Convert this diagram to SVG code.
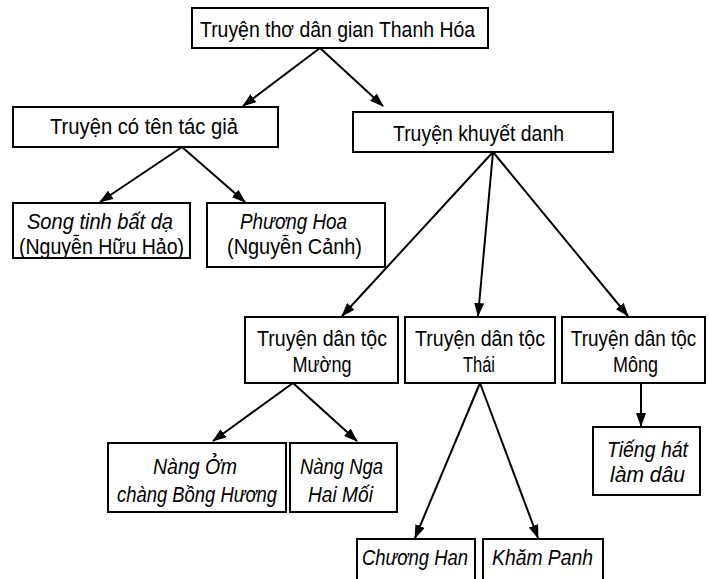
<svg xmlns="http://www.w3.org/2000/svg" width="709" height="579" viewBox="0 0 709 579">
<style>
.box{fill:#fff;stroke:#000;stroke-width:2}
.t{font-family:"Liberation Sans Narrow","Liberation Sans",Arial,sans-serif;font-size:22px;fill:#000;text-anchor:middle}
.i{font-style:italic;font-size:21.5px}
.c{stroke:#000;stroke-width:2;fill:none;marker-end:url(#ah)}
</style>
<defs>
<marker id="ah" markerUnits="userSpaceOnUse" markerWidth="14" markerHeight="10" refX="13" refY="5" orient="auto">
<path d="M0,0 L14,5 L0,10 Z" fill="#000"/>
</marker>
</defs>
<rect width="709" height="579" fill="#fff"/>
<g id="connectors">
<line class="c" x1="320" y1="48" x2="243" y2="106"/>
<line class="c" x1="320" y1="48" x2="383" y2="106"/>
<line class="c" x1="182" y1="147" x2="100" y2="202"/>
<line class="c" x1="182" y1="147" x2="245" y2="202"/>
<line class="c" x1="493" y1="152" x2="342" y2="316"/>
<line class="c" x1="493" y1="152" x2="478" y2="316"/>
<line class="c" x1="493" y1="152" x2="628" y2="316"/>
<line class="c" x1="293" y1="383" x2="213" y2="441"/>
<line class="c" x1="293" y1="383" x2="357" y2="441"/>
<line class="c" x1="480" y1="383" x2="415" y2="538"/>
<line class="c" x1="480" y1="383" x2="538" y2="538"/>
<line class="c" x1="641" y1="383" x2="641" y2="426"/>
</g>
<g id="root">
<rect class="box" x="192" y="8" width="296" height="40"/>
<text class="t" x="337.5" y="37" textLength="275" lengthAdjust="spacingAndGlyphs">Truyện thơ dân gian Thanh Hóa</text>
</g>
<g id="co-ten-tac-gia">
<rect class="box" x="13" y="107" width="265" height="40"/>
<text class="t" x="144" y="134" textLength="188" lengthAdjust="spacingAndGlyphs">Truyện có tên tác giả</text>
</g>
<g id="khuyet-danh">
<rect class="box" x="353" y="112" width="260" height="40"/>
<text class="t" x="478.5" y="141" textLength="171" lengthAdjust="spacingAndGlyphs">Truyện khuyết danh</text>
</g>
<g id="song-tinh">
<rect class="box" x="13" y="203" width="177" height="55"/>
<text class="t i" x="100" y="229" textLength="146" lengthAdjust="spacingAndGlyphs">Song tinh bất dạ</text>
<text class="t" x="101.5" y="254" textLength="165" lengthAdjust="spacingAndGlyphs">(Nguyễn Hữu Hảo)</text>
</g>
<g id="phuong-hoa">
<rect class="box" x="207" y="203" width="178" height="64"/>
<text class="t i" x="293.5" y="229" textLength="107" lengthAdjust="spacingAndGlyphs">Phương Hoa</text>
<text class="t" x="294.5" y="254" textLength="135" lengthAdjust="spacingAndGlyphs">(Nguyễn Cảnh)</text>
</g>
<g id="muong">
<rect class="box" x="245" y="317" width="153" height="66"/>
<text class="t" x="322" y="346" textLength="130" lengthAdjust="spacingAndGlyphs">Truyện dân tộc</text>
<text class="t" x="322" y="372" textLength="59" lengthAdjust="spacingAndGlyphs">Mường</text>
</g>
<g id="thai">
<rect class="box" x="405" y="317" width="150" height="66"/>
<text class="t" x="480" y="346" textLength="130" lengthAdjust="spacingAndGlyphs">Truyện dân tộc</text>
<text class="t" x="479" y="372" textLength="32" lengthAdjust="spacingAndGlyphs">Thái</text>
</g>
<g id="mong">
<rect class="box" x="562" y="317" width="143" height="66"/>
<text class="t" transform="translate(633.5,346) scale(0.86,1)" x="0" y="0">Truyện dân tộc</text>
<text class="t" x="635.5" y="372" textLength="45" lengthAdjust="spacingAndGlyphs">Mông</text>
</g>
<g id="nang-om">
<rect class="box" x="108" y="443" width="178" height="69"/>
<text class="t i" x="195" y="474" textLength="84" lengthAdjust="spacingAndGlyphs">Nàng Ởm</text>
<text class="t i" x="197" y="502" textLength="160" lengthAdjust="spacingAndGlyphs">chàng Bồng Hương</text>
</g>
<g id="nang-nga">
<rect class="box" x="290" y="443" width="107" height="69"/>
<text class="t i" x="341.5" y="474" textLength="83" lengthAdjust="spacingAndGlyphs">Nàng Nga</text>
<text class="t i" x="340.5" y="502" textLength="65" lengthAdjust="spacingAndGlyphs">Hai Mối</text>
</g>
<g id="chuong-han">
<rect class="box" x="357" y="539" width="118" height="50"/>
<text class="t i" x="415" y="565" textLength="106" lengthAdjust="spacingAndGlyphs">Chương Han</text>
</g>
<g id="kham-panh">
<rect class="box" x="483" y="539" width="120" height="50"/>
<text class="t i" x="542.5" y="565" textLength="101" lengthAdjust="spacingAndGlyphs">Khăm Panh</text>
</g>
<g id="tieng-hat">
<rect class="box" x="593" y="427" width="107" height="68"/>
<text class="t i" x="647.5" y="457" textLength="81" lengthAdjust="spacingAndGlyphs">Tiếng hát</text>
<text class="t i" x="647.5" y="482" textLength="75" lengthAdjust="spacingAndGlyphs">làm dâu</text>
</g>
</svg>
